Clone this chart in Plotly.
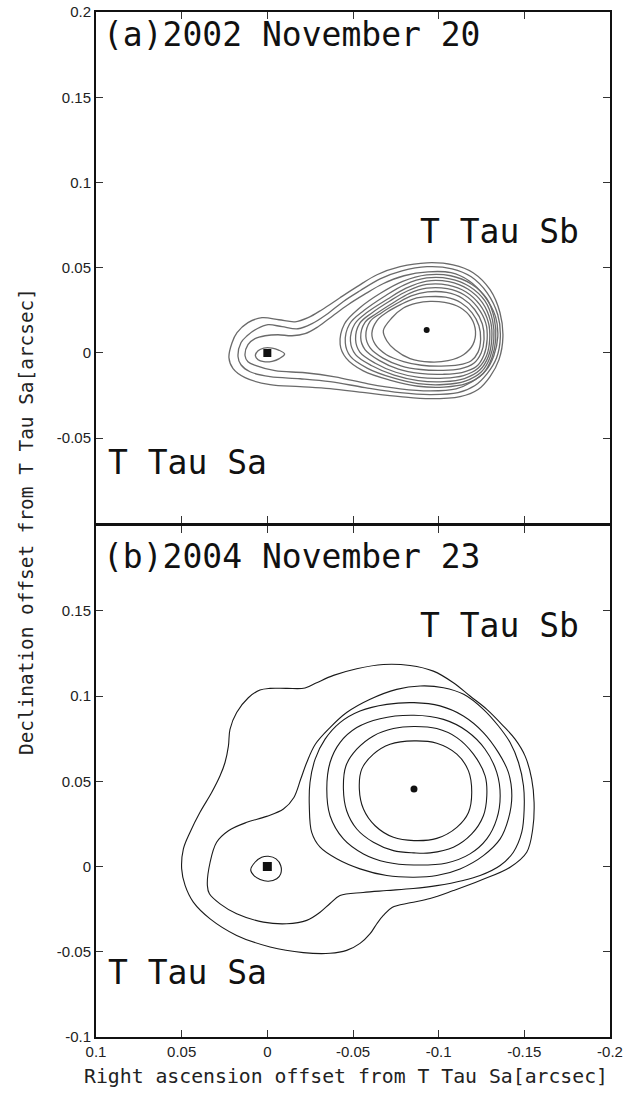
import plotly.graph_objects as go

# ---------------- data (offsets in milliarcseconds: RA, Dec) ----------------
# Panel (a) 2002 November 20
a_sa_pos = (0.0, 0.0)
a_sb_pos = (-93.0, 13.5)
a_sa_loop = [(7.0, -1.4), (5.4, 1.3), (2.1, 2.9), (-2.8, 2.9), (-6.6, 1.7), (-10.1, -0.6),
             (-7.0, -3.3), (-2.8, -4.9), (2.1, -5.1), (5.4, -4.0)]
a_outer1 = [(22.4, -2.8), (20.6, 6.0), (17.7, 11.9), (11.3, 17.8), (3.1, 20.7), (-6.8, 19.5),
            (-16.2, 18.3), (-23.8, 20.7), (-31.9, 25.4), (-42.4, 32.4), (-52.4, 38.9), (-64.0, 45.9),
            (-77.5, 50.6), (-93.2, 52.9), (-108.4, 51.7), (-120.1, 47.1), (-130.0, 37.1), (-135.8, 23.6),
            (-137.5, 9.6), (-135.2, -3.9), (-130.0, -13.8), (-123.0, -21.4), (-112.5, -25.6), (-95.0, -26.8),
            (-77.5, -25.6), (-57.0, -23.3), (-36.6, -20.9), (-19.1, -19.7), (-1.6, -18.6), (13.0, -14.5),
            (20.0, -9.2)]
a_outer2 = [(17.1, -2.2), (15.4, 6.0), (11.8, 10.1), (6.0, 14.2), (-0.4, 16.6), (-8.6, 15.4),
            (-17.9, 14.2), (-26.1, 17.2), (-34.3, 22.4), (-44.2, 30.1), (-54.1, 36.5), (-65.8, 43.5),
            (-78.6, 48.2), (-93.2, 50.6), (-107.8, 49.4), (-119.0, 44.7), (-128.3, 35.3), (-134.5, 22.4),
            (-136.0, 9.6), (-133.8, -2.8), (-128.3, -12.1), (-121.2, -19.1), (-111.3, -23.3), (-95.0, -24.4),
            (-77.5, -23.3), (-57.0, -20.3), (-36.6, -16.8), (-19.1, -15.1), (-1.6, -13.9), (10.1, -11.0),
            (15.4, -6.9)]
a_outer3 = [(13.0, -1.6), (11.3, 4.9), (7.2, 8.4), (1.3, 10.1), (-6.2, 10.7), (-14.4, 10.1),
            (-22.0, 11.3), (-29.6, 15.4), (-38.3, 21.9), (-47.1, 28.3), (-56.4, 34.2), (-67.5, 40.6),
            (-79.8, 45.3), (-93.8, 47.6), (-107.2, 47.1), (-117.7, 42.4), (-126.5, 33.6), (-133.2, 21.3),
            (-134.5, 9.6), (-132.2, -1.6), (-127.5, -10.4), (-119.5, -16.9), (-110.2, -21.0), (-95.0, -22.2),
            (-77.5, -21.0), (-58.8, -18.1), (-39.5, -14.0), (-22.0, -11.6), (-4.5, -10.4), (6.6, -7.4),
            (11.3, -5.1)]
a_sb8 = [(-42.5, 5), (-45, 17), (-54, 26.5), (-66, 35), (-79, 42), (-93, 45.8), (-107, 45.3), (-119, 40.5),
         (-128, 32), (-132.5, 20), (-133.3, 8), (-131, -3), (-126, -12), (-116, -18), (-103, -20),
         (-88, -19.5), (-72, -16), (-56, -10.5), (-46, -3)]
a_sb7 = [(-45.5, 6), (-48, 17), (-56.5, 25), (-68, 33), (-80, 40), (-93, 44), (-106.5, 43.5), (-118, 39),
         (-127, 30.5), (-131.5, 19), (-132.2, 8), (-130, -2.5), (-125, -11), (-115.5, -16.5), (-103, -18.5),
         (-88, -18), (-73, -14.5), (-58.5, -9), (-48.5, -2)]
a_sb6 = [(-48.5, 7), (-51, 17), (-58.5, 24), (-70, 31.5), (-81, 38), (-93, 42.2), (-106, 41.8), (-117, 37.5),
         (-125.5, 29.5), (-130.3, 18.5), (-131, 8), (-129, -2), (-124, -10), (-115, -15), (-103, -16.8),
         (-88, -16.2), (-74, -13), (-61, -7.5), (-51.5, -1)]
a_sb5 = [(-51.5, 8), (-54, 17.5), (-61, 23.5), (-71.5, 30.5), (-82, 36.5), (-93, 40.2), (-105.5, 39.8),
         (-116, 35.8), (-124, 28.3), (-129, 18), (-129.8, 8), (-128, -1.5), (-123, -9), (-114.5, -13.3),
         (-103, -14.8), (-88.5, -14.3), (-75, -11.3), (-63, -6), (-54, 0.5)]
a_sb4 = [(-54.5, 9), (-57, 18), (-63.5, 23), (-73.5, 29.5), (-83, 35), (-93, 38), (-105, 37.7), (-115, 34),
         (-122.5, 27), (-127.5, 17.5), (-128.3, 8), (-126.5, -1), (-122, -8), (-113.5, -11.5), (-102.5, -12.5),
         (-89, -12), (-76.5, -9.5), (-65.5, -4.5), (-57, 2)]
a_sb3 = [(-57.5, 10), (-60, 18.5), (-66.5, 23.5), (-75.5, 29), (-84, 33.5), (-93.5, 35.8), (-104.5, 35.5),
         (-114, 32), (-121, 25.5), (-125.5, 17), (-126.5, 8), (-124.8, 0), (-120.5, -6), (-112.5, -9.3),
         (-102, -10.2), (-89.5, -9.7), (-78, -7.5), (-67.5, -3), (-60, 3)]
a_sb2 = [(-61, 11.5), (-64, 19), (-70, 24), (-78, 28.5), (-85.5, 31.8), (-94, 33), (-104, 32.7), (-113, 29.5),
         (-119.5, 23.5), (-123.5, 16), (-124.5, 8), (-123, 0.5), (-119, -4.5), (-111.5, -7), (-101.5, -7.7),
         (-90, -7.2), (-79.5, -5), (-69.5, -1), (-63, 5)]
a_sb1 = [(-67.7, 13.1), (-72.6, 20.5), (-79.4, 26.4), (-87.2, 29.3), (-95, 30.3), (-103.5, 29.7),
         (-112.5, 26.7), (-119, 20.5), (-121.5, 12.7), (-120, 4.9), (-114.5, -1), (-105.5, -4.5),
         (-95, -5.3), (-83.3, -3.3), (-74.5, 1.9), (-69.7, 7.2)]

# Panel (b) 2004 November 23
b_sa_pos = (0.0, 0.0)
b_sb_pos = (-85.6, 45.4)
b_sa_loop = [(9.7, -2.0), (7.2, 2.5), (3.3, 5.4), (-0.6, 6.0), (-5.1, 4.5), (-7.8, 0.6), (-7.8, -4.3),
             (-5.5, -7.2), (-0.6, -8.6), (4.2, -7.6), (7.8, -5.3)]
b_c6 = [(50.0, -1.4), (49.0, 10.3), (45.1, 20.1), (39.3, 31.8), (32.5, 43.4), (27.6, 53.2), (24.7, 61.0),
        (22.7, 70.8), (21.8, 80.5), (17.9, 90.3), (11.1, 99.0), (4.3, 103.5), (-1.6, 104.5), (-11.3, 104.5),
        (-22.0, 104.7), (-28.8, 107.8), (-38.6, 112.1), (-52.2, 116.0), (-67.7, 118.5), (-83.3, 117.9),
        (-96.9, 114.6), (-108.6, 107.8), (-118.3, 100.0), (-128.1, 92.2), (-137.8, 82.4), (-144.6, 74.7),
        (-150.4, 64.9), (-154.3, 51.3), (-155.7, 37.6), (-154.9, 22.0), (-151.4, 8.4), (-141.7, -0.4),
        (-124.2, -8.2), (-108.6, -14.1), (-95.0, -18.8), (-83.3, -21.3), (-72.8, -24.0), (-67.7, -28.7),
        (-64.0, -33.4), (-60.0, -39.4), (-54.1, -45.1), (-46.3, -49.2), (-36.6, -50.9), (-21.0, -50.5),
        (-1.6, -47.2), (17.9, -40.4), (33.4, -30.7), (43.2, -20.9), (48.0, -11.1)]
b_c5 = [(35.0, -11.2), (33.4, 2.5), (29.6, 14.2), (22.7, 21.0), (12.0, 25.9), (0.4, 29.4), (-9.4, 33.7),
        (-15.5, 40.5), (-19.5, 51.3), (-23.0, 61.0), (-28.0, 71.7), (-36.6, 81.5), (-46.3, 90.3),
        (-60.0, 98.1), (-75.5, 103.9), (-89.2, 105.9), (-102.8, 104.9), (-114.6, 101.0), (-126.1, 92.2),
        (-134.9, 82.4), (-141.7, 72.7), (-146.6, 61.0), (-149.5, 47.4), (-149.9, 33.7), (-148.5, 20.1),
        (-143.6, 8.4), (-135.9, 0.6), (-124.2, -5.3), (-114.3, -8.2), (-98.9, -11.2), (-85.1, -12.9),
        (-69.7, -14.1), (-55.9, -15.2), (-42.4, -17.0), (-36.6, -21.7), (-30.8, -26.8), (-23.0, -31.6),
        (-11.3, -33.6), (2.3, -32.6), (17.9, -27.7), (27.6, -21.9), (33.8, -16.0)]
b_c4 = [(-25.9, 20.0), (-24.5, 35.6), (-24.9, 49.3), (-27.9, 63.0), (-33.7, 74.7), (-42.4, 84.4),
        (-54.1, 91.2), (-69.7, 95.1), (-85.6, 96.1), (-100.8, 94.2), (-114.4, 88.3), (-126.1, 78.6),
        (-134.9, 66.8), (-140.7, 55.2), (-142.7, 41.5), (-140.7, 27.9), (-135.9, 16.2), (-126.1, 6.4),
        (-112.5, -1.4), (-98.9, -5.3), (-85.6, -6.3), (-69.7, -5.3), (-54.1, -1.4), (-40.5, 4.5), (-30.8, 11.3)]
b_c3 = [(-34.7, 45.4), (-36.6, 61.0), (-42.4, 72.7), (-52.2, 81.5), (-65.8, 86.7), (-85.6, 88.7),
        (-102.8, 86.3), (-116.4, 79.5), (-127.1, 68.8), (-133.9, 55.2), (-135.9, 41.5), (-133.9, 27.9),
        (-128.1, 16.2), (-118.3, 7.4), (-104.7, 2.1), (-85.6, 0.9), (-69.7, 2.5), (-56.1, 7.4),
        (-44.4, 16.2), (-36.6, 29.8)]
b_c2 = [(-44.4, 45.4), (-45.9, 59.1), (-52.2, 68.8), (-61.9, 76.6), (-73.6, 80.9), (-85.6, 82.1),
        (-98.9, 80.9), (-110.6, 75.6), (-120.3, 65.9), (-127.1, 53.2), (-128.1, 41.5), (-126.1, 29.8),
        (-119.3, 19.1), (-108.6, 11.3), (-95.0, 8.0), (-85.6, 8.0), (-73.6, 9.3), (-61.9, 14.2),
        (-52.2, 22.0), (-46.3, 32.7)]
b_c1 = [(-53.7, 45.4), (-55.1, 57.1), (-61.9, 65.9), (-71.6, 71.7), (-85.6, 73.7), (-98.9, 72.3),
        (-110.6, 65.9), (-117.4, 56.1), (-119.3, 43.4), (-117.4, 31.7), (-110.6, 23.0), (-98.9, 16.5),
        (-85.6, 15.2), (-73.6, 17.1), (-62.9, 23.9), (-56.1, 33.7)]

# axes
x_range = [0.1, -0.2]
y_range = [-0.1, 0.2]
x_ticks = [0.1, 0.05, 0.0, -0.05, -0.1, -0.15, -0.2]
x_ticktext = ["0.1", "0.05", "0", "-0.05", "-0.1", "-0.15", "-0.2"]
ya_ticks = [0.2, 0.15, 0.1, 0.05, 0.0, -0.05]
ya_ticktext = ["0.2", "0.15", "0.1", "0.05", "0", "-0.05"]
yb_ticks = [0.15, 0.1, 0.05, 0.0, -0.05, -0.1]
yb_ticktext = ["0.15", "0.1", "0.05", "0", "-0.05", "-0.1"]

MAS = 1000.0
fig = go.Figure()


def add_contour(pts, xa, ya, color, width):
    xs = [p[0] / MAS for p in pts] + [pts[0][0] / MAS]
    ys = [p[1] / MAS for p in pts] + [pts[0][1] / MAS]
    fig.add_trace(go.Scatter(x=xs, y=ys, mode="lines", xaxis=xa, yaxis=ya,
                             line=dict(color=color, width=width, shape="spline", smoothing=1.0),
                             hoverinfo="skip", showlegend=False))


top_color = "#6a6a6a"
for c in [a_outer1, a_outer2, a_outer3, a_sb8, a_sb7, a_sb6, a_sb5, a_sb4, a_sb3, a_sb2, a_sb1, a_sa_loop]:
    add_contour(c, "x", "y", top_color, 1.3)
bot_color = "#1a1a1a"
for c in [b_c6, b_c5, b_c4, b_c3, b_c2, b_c1, b_sa_loop]:
    add_contour(c, "x2", "y2", bot_color, 1.1)

# source markers
for (sa, sb, xa, ya, sq, dt) in [(a_sa_pos, a_sb_pos, "x", "y", 8, 6), (b_sa_pos, b_sb_pos, "x2", "y2", 9, 7)]:
    fig.add_trace(go.Scatter(x=[sa[0] / MAS], y=[sa[1] / MAS], mode="markers", xaxis=xa, yaxis=ya,
                             marker=dict(symbol="square", size=sq, color="#111"), showlegend=False))
    fig.add_trace(go.Scatter(x=[sb[0] / MAS], y=[sb[1] / MAS], mode="markers", xaxis=xa, yaxis=ya,
                             marker=dict(symbol="circle", size=dt, color="#111"), showlegend=False))

label_font = dict(family="DejaVu Sans Mono", size=33, color="#111")
ann = [
    dict(text="(a)2002 November 20", x=0.097, y=0.187, xref="x", yref="y"),
    dict(text="T Tau Sb", x=-0.088, y=0.071, xref="x", yref="y"),
    dict(text="T Tau Sa", x=0.094, y=-0.064, xref="x", yref="y"),
    dict(text="(b)2004 November 23", x=0.097, y=0.182, xref="x2", yref="y2"),
    dict(text="T Tau Sb", x=-0.088, y=0.1416, xref="x2", yref="y2"),
    dict(text="T Tau Sa", x=0.094, y=-0.062, xref="x2", yref="y2"),
]
for a in ann:
    fig.add_annotation(**a, showarrow=False, xanchor="left", yanchor="middle", font=label_font)

fig.add_annotation(text="Right ascension offset from T Tau Sa[arcsec]", x=0.486, y=-0.039,
                   xref="paper", yref="paper", xanchor="center", yanchor="middle",
                   showarrow=False, font=dict(family="DejaVu Sans Mono", size=19.8, color="#222"))
fig.add_annotation(text="Declination offset from T Tau Sa[arcsec]", x=-0.135, y=0.503,
                   xref="paper", yref="paper", xanchor="center", yanchor="middle",
                   textangle=-90, showarrow=False,
                   font=dict(family="DejaVu Sans Mono", size=19.4, color="#222"))

axis_common = dict(showline=True, linewidth=2, linecolor="#111", mirror="allticks",
                   ticks="inside", ticklen=7, tickwidth=1, tickcolor="#333",
                   showgrid=False, zeroline=False, automargin=False,
                   tickfont=dict(family="Liberation Sans", size=15, color="#222"))

# panel domains overlap by one line width so the shared frame line is single
top_domain = [0.501, 1]
bottom_domain = [0, 0.499]

fig.update_layout(
    width=626, height=1097,
    margin=dict(l=96, r=16, t=12, b=60, autoexpand=False),
    paper_bgcolor="white", plot_bgcolor="white",
    showlegend=False,
    xaxis=dict(**axis_common, domain=[0, 1], range=x_range, anchor="y",
               tickvals=x_ticks, showticklabels=False),
    yaxis=dict(**axis_common, domain=top_domain, range=y_range, anchor="x",
               tickvals=ya_ticks, ticktext=ya_ticktext),
    xaxis2=dict(**axis_common, domain=[0, 1], range=x_range, anchor="y2",
                tickvals=x_ticks, ticktext=x_ticktext),
    yaxis2=dict(**axis_common, domain=bottom_domain, range=y_range, anchor="x2",
                tickvals=yb_ticks, ticktext=yb_ticktext),
)

fig.write_html("out.html")
